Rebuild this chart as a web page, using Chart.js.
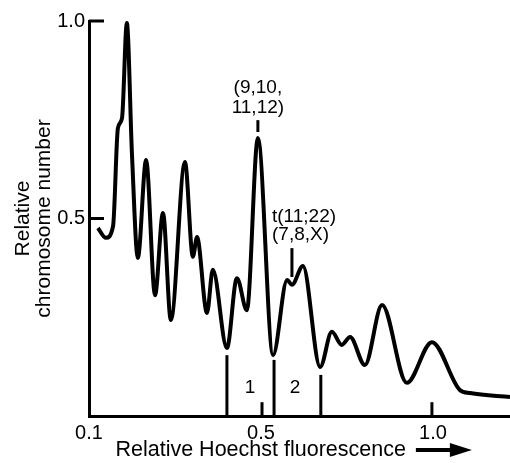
<!DOCTYPE html>
<html>
<head>
<meta charset="utf-8">
<script src="https://cdn.jsdelivr.net/npm/chart.js@4.4.1/dist/chart.umd.min.js"></script>
<style>
	body { margin: 0; background: #fff; }
	canvas { display: block; }
</style>
</head>
<body>
<canvas id="graf" width="510" height="463"></canvas>
<script>
// x in axis units (0 = origin of the axis, labelled 0.1)
let fluorescence = [0.026, 0.049, 0.070, 0.084, 0.096, 0.110, 0.125, 0.142, 0.166, 0.192,
	0.215, 0.238, 0.279, 0.302, 0.314, 0.343, 0.360, 0.401, 0.430, 0.459,
	0.491, 0.535, 0.576, 0.590, 0.622, 0.672, 0.706, 0.735, 0.759, 0.802,
	0.852, 0.924, 0.997, 1.078, 1.108, 1.224];
let chromosomes = [0.476, 0.451, 0.481, 0.729, 0.754, 0.995, 0.661, 0.400, 0.648, 0.306,
	0.514, 0.243, 0.643, 0.403, 0.453, 0.261, 0.370, 0.172, 0.349, 0.268,
	0.704, 0.154, 0.344, 0.332, 0.380, 0.124, 0.213, 0.180, 0.200, 0.129,
	0.281, 0.084, 0.187, 0.066, 0.058, 0.048];

let xTicks = [0, 0.5, 1.0];
let xTickLabels = ["0.1", "0.5", "1.0"];
let yTicks = [0.5, 1.0];
let yTickLabels = ["0.5", "1.0"];

// vertical cut markers standing on the x axis
let markerX = [0.401, 0.503, 0.538, 0.674, 0.997];
let markerTop = [0.154, 0.035, 0.142, 0.104, 0.035];

// short marks above two peaks
let peakMarkX = [0.491, 0.590];
let peakMarkFrom = [0.719, 0.352];
let peakMarkTo = [0.749, 0.425];

let labelTexts = ["(9,10,", "11,12)", "t(11;22)", "(7,8,X)", "1", "2"];
let labelX = [0.491, 0.491, 0.532, 0.532, 0.468, 0.599];
let labelY = [0.830, 0.780, 0.504, 0.458, 0.071, 0.071];
let labelAlign = ["center", "center", "left", "left", "center", "center"];

const font = "'Liberation Sans', Arial, Helvetica, sans-serif";
const xTitle = "Relative Hoechst fluorescence";

const dodatki = {
	id: "dodatki",
	afterDatasetsDraw(chart) {
		const ctx = chart.ctx;
		const x = chart.scales.x;
		const y = chart.scales.y;
		ctx.save();
		ctx.strokeStyle = "#000";
		ctx.fillStyle = "#000";
		ctx.lineWidth = 3;

		// ticks on the y axis point into the plot
		for (let i = 0; i < yTicks.length; i++) {
			let py = y.getPixelForValue(yTicks[i]);
			ctx.beginPath();
			ctx.moveTo(x.left, py);
			ctx.lineTo(x.left + 15, py);
			ctx.stroke();
		}

		for (let i = 0; i < markerX.length; i++) {
			let px = x.getPixelForValue(markerX[i]);
			ctx.beginPath();
			ctx.moveTo(px, y.getPixelForValue(markerTop[i]));
			ctx.lineTo(px, y.getPixelForValue(0));
			ctx.stroke();
		}

		for (let i = 0; i < peakMarkX.length; i++) {
			let px = x.getPixelForValue(peakMarkX[i]);
			ctx.beginPath();
			ctx.moveTo(px, y.getPixelForValue(peakMarkFrom[i]));
			ctx.lineTo(px, y.getPixelForValue(peakMarkTo[i]));
			ctx.stroke();
		}

		ctx.font = "19px " + font;
		ctx.textBaseline = "middle";
		for (let i = 0; i < labelTexts.length; i++) {
			ctx.textAlign = labelAlign[i];
			ctx.fillText(labelTexts[i], x.getPixelForValue(labelX[i]), y.getPixelForValue(labelY[i]));
		}

		// arrow after the x title
		ctx.font = "21.5px " + font;
		let wWords = ctx.measureText(xTitle).width;
		let wFull = ctx.measureText(x.options.title.text).width;
		let cx = (x.left + x.right) / 2;
		let ax = cx - wFull / 2 + wWords + 10;
		let ay = x.bottom - 13;
		ctx.lineWidth = 4;
		ctx.beginPath();
		ctx.moveTo(ax, ay);
		ctx.lineTo(ax + 38, ay);
		ctx.stroke();
		ctx.beginPath();
		ctx.moveTo(ax + 34, ay - 7);
		ctx.lineTo(ax + 56, ay);
		ctx.lineTo(ax + 34, ay + 7);
		ctx.closePath();
		ctx.fill();
		ctx.restore();
	}
};

let graf = new Chart("graf", {
	type: "line",
	data: {
		datasets: [{
			data: fluorescence.map((v, i) => ({x: v, y: chromosomes[i]})),
			borderColor: "#000",
			borderWidth: 4,
			pointRadius: 0,
			cubicInterpolationMode: "monotone",
			clip: false
		}]
	},
	options: {
		responsive: false,
		animation: false,
		layout: { padding: { top: 21, right: 0, left: 0, bottom: 0 } },
		plugins: {
			legend: { display: false },
			tooltip: { enabled: false }
		},
		scales: {
			x: {
				type: "linear",
				min: 0,
				max: 1.224,
				afterBuildTicks: s => { s.ticks = xTicks.map(v => ({value: v})); },
				afterFit: s => { s.height = 47; },
				grid: { display: false, drawTicks: false },
				border: { display: true, color: "#000", width: 3 },
				ticks: {
					color: "#000",
					padding: 5,
					font: { family: font, size: 20 },
					callback: (v) => xTickLabels[xTicks.indexOf(v)]
				},
				title: {
					display: true,
					text: xTitle + "             ",
					color: "#000",
					font: { family: font, size: 21.5 },
					padding: { top: 3, bottom: 0 }
				}
			},
			y: {
				min: 0,
				max: 1.0,
				afterBuildTicks: s => { s.ticks = yTicks.map(v => ({value: v})); },
				afterFit: s => { s.width = 89; },
				grid: { display: false, drawTicks: false },
				border: { display: true, color: "#000", width: 3 },
				ticks: {
					color: "#000",
					padding: 4,
					font: { family: font, size: 20 },
					callback: (v) => yTickLabels[yTicks.indexOf(v)]
				},
				title: {
					display: true,
					text: ["Relative", "chromosome number"],
					color: "#000",
					font: { family: font, size: 21, lineHeight: 1.0 },
					padding: { top: 13, bottom: 0 }
				}
			}
		}
	},
	plugins: [dodatki]
});
</script>
</body>
</html>
